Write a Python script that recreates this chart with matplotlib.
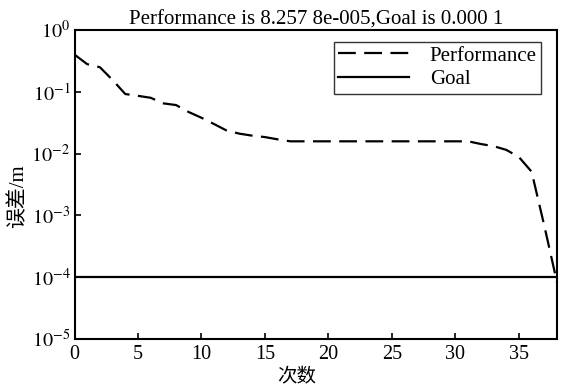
import matplotlib
matplotlib.use("Agg")
import matplotlib.pyplot as plt
import numpy as np

plt.rcParams['font.family'] = ['Liberation Serif', 'Noto Sans CJK SC']
plt.rcParams['mathtext.fontset'] = 'stix'

epochs = list(range(0, 39))
performance = [0.40, 0.28, 0.25, 0.155, 0.092, 0.086, 0.080, 0.065, 0.061, 0.047,
               0.038, 0.030, 0.0235, 0.021, 0.0195, 0.0185, 0.017, 0.0158, 0.0158, 0.0158,
               0.0158, 0.0158, 0.0158, 0.0158, 0.0158, 0.0158, 0.0158, 0.0158, 0.0158, 0.0158,
               0.0158, 0.0158, 0.0143, 0.0132, 0.0115, 0.0088, 0.0051, 0.00068, 8.2578e-5]
goal_value = 1e-4
xticks = [0, 5, 10, 15, 20, 25, 30, 35]
yticks = [1e-5, 1e-4, 1e-3, 1e-2, 1e-1, 1e0]
ytick_labels = [r'$10^{-5}$', r'$10^{-4}$', r'$10^{-3}$', r'$10^{-2}$', r'$10^{-1}$', r'$10^{0}$']
title = 'Performance is 8.257 8e-005,Goal is 0.000 1'

W, H = 564, 385
L, R, T, B = 74.5, 557, 30, 339
fig = plt.figure(figsize=(W/100, H/100), dpi=100)
ax = fig.add_axes([L/W, 1-B/H, (R-L)/W, (B-T)/H])

ax.plot(epochs, performance, color='black', lw=1.6, ls=(0, (8, 3.8)), label='Performance')
ax.plot([epochs[0], epochs[-1]], [goal_value, goal_value], color='black', lw=1.6, label='Goal')

ax.set_yscale('log')
ax.set_xlim(0, 38)
ax.set_ylim(1e-5, 1e0)
ax.set_xticks(xticks)
ax.set_xticklabels([str(t) for t in xticks])
ax.set_yticks(yticks)
ax.set_yticklabels(ytick_labels)
ax.yaxis.set_minor_locator(matplotlib.ticker.NullLocator())
ax.tick_params(direction='in', length=4, width=1.2, labelsize=14.5, top=False, right=False)
ax.tick_params(axis='x', pad=4)
ax.tick_params(axis='y', pad=3)
for s in ax.spines.values():
    s.set_linewidth(1.5)

ax.set_title(title, fontsize=15, pad=3)
ax.set_xlabel('次数', fontsize=14)
ax.set_ylabel('误差/m', fontsize=15)
ax.xaxis.set_label_coords((297-L)/(R-L), (B-368)/(B-T))
ax.yaxis.set_label_coords((28-L)/(R-L), (B-196.5)/(B-T))

leg = ax.legend(loc='upper right', bbox_to_anchor=(541/W, 1-42/H), bbox_transform=fig.transFigure,
                borderaxespad=0, fontsize=15, frameon=True, fancybox=False, edgecolor='black',
                handlelength=3.4, labelspacing=0.2, borderpad=0.2, handletextpad=1.0)
leg.get_frame().set_linewidth(1.0)

fig.savefig('out.png', dpi=100)
